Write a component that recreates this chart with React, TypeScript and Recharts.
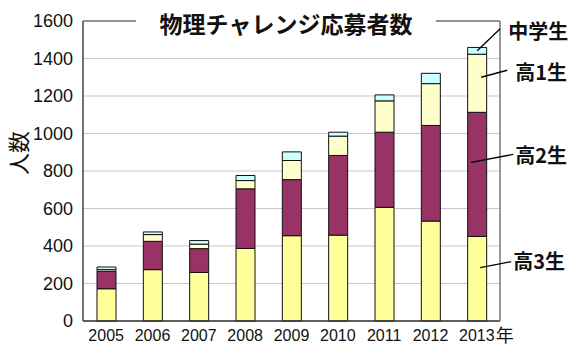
import { BarChart, Bar, XAxis, YAxis, CartesianGrid, ReferenceLine, LabelList } from "recharts";

const years = ["2005", "2006", "2007", "2008", "2009", "2010", "2011", "2012", "2013"];
const koukou3 = [172, 274, 259, 387, 455, 458, 606, 533, 451];
const koukou2 = [93, 151, 127, 318, 299, 425, 401, 510, 662];
const koukou1 = [9, 36, 24, 44, 102, 103, 167, 223, 310];
const chugaku = [14, 14, 19, 27, 46, 21, 32, 55, 36];
const yTicks = [0, 200, 400, 600, 800, 1000, 1200, 1400, 1600];

const data = years.map((year, i) => ({
  year,
  k3: koukou3[i],
  k2: koukou2[i],
  k1: koukou1[i],
  ch: chugaku[i],
}));

const JP = "'Noto Sans CJK JP', sans-serif";
const LAT = "'Liberation Sans', Arial, sans-serif";

// leader line + callout text drawn next to the last bar's segment
function callout(text: string, s: [number, number], e: [number, number], t: [number, number]) {
  return (props: any) => {
    if (props.index !== years.length - 1) return null;
    const vb = props.viewBox || props;
    const x = vb.x ?? props.x;
    const y = vb.y ?? props.y;
    const w = vb.width ?? props.width;
    const h = vb.height ?? props.height;
    const cx = x + w / 2;
    const cy = y + h / 2;
    return (
      <g>
        <line x1={cx + s[0]} y1={cy + s[1]} x2={cx + e[0]} y2={cy + e[1]} stroke="#000" strokeWidth={1.3} />
        <text x={cx + t[0]} y={cy + t[1]} dominantBaseline="central" fontFamily={JP} fontWeight={700} fontSize={20} fill="#111">
          {text}
        </text>
      </g>
    );
  };
}

function XTick(props: any) {
  const { x, y, payload } = props;
  return (
    <g>
      <text x={x} y={y + 6} textAnchor="middle" dominantBaseline="central" fontFamily={LAT} fontSize={16} fill="#111">
        {payload.value}
      </text>
      {payload.value === "2013" && (
        <text x={x + 19} y={y + 5} dominantBaseline="central" fontFamily={JP} fontSize={18} fill="#111">
          年
        </text>
      )}
    </g>
  );
}

export default function App() {
  return (
    <div style={{ position: "absolute", left: 0, top: 0, width: 578, height: 354, background: "#fff" }}>
      <BarChart width={578} height={354} data={data} margin={{ top: 21, right: 77, bottom: 5, left: 0 }} barSize={19}>
        <CartesianGrid vertical={false} stroke="#c8c8c8" />
        <XAxis
          dataKey="year"
          height={28}
          tickLine={false}
          axisLine={{ stroke: "#333", strokeWidth: 1.5 }}
          tick={<XTick />}
          interval={0}
        />
        <YAxis
          width={83}
          domain={[0, 1600]}
          ticks={yTicks}
          tickLine={false}
          tickMargin={4}
          axisLine={{ stroke: "#444", strokeWidth: 1.5 }}
          tick={{ fontFamily: LAT, fontSize: 18, fill: "#111" }}
          label={{
            content: (p: any) => {
              const vb = p.viewBox || {};
              const cy = (vb.y ?? 21) + (vb.height ?? 300) / 2 - 18;
              return (
                <text
                  x={17}
                  y={cy}
                  transform={`rotate(-90 17 ${cy})`}
                  textAnchor="middle"
                  dominantBaseline="central"
                  fontFamily={JP}
                  fontSize={22}
                  fill="#111"
                >
                  人数
                </text>
              );
            },
          }}
        />
        <YAxis yAxisId="r" orientation="right" width={1} domain={[0, 1600]} tick={false} tickLine={false} axisLine={{ stroke: "#777", strokeWidth: 1.5 }} />
        <ReferenceLine y={1600} stroke="#777" strokeWidth={1.5} />
        <Bar dataKey="k3" stackId="a" fill="#ffff99" stroke="#111" strokeWidth={1} isAnimationActive={false}>
          <LabelList dataKey="k3" content={callout("高3生", [3, -11], [34, -17], [36, -18])} />
        </Bar>
        <Bar dataKey="k2" stackId="a" fill="#993366" stroke="#111" strokeWidth={1} isAnimationActive={false}>
          <LabelList dataKey="k2" content={callout("高2生", [-6, -12], [36, -20], [38, -20])} />
        </Bar>
        <Bar dataKey="k1" stackId="a" fill="#ffffcc" stroke="#111" strokeWidth={1} isAnimationActive={false}>
          <LabelList dataKey="k1" content={callout("高1生", [4, -6], [30, -13], [38, -12])} />
        </Bar>
        <Bar dataKey="ch" stackId="a" fill="#ccffff" stroke="#111" strokeWidth={1} isAnimationActive={false}>
          <LabelList dataKey="ch" content={callout("中学生", [0, 0], [23, -22], [31, -20])} />
        </Bar>
      </BarChart>
      <div
        style={{
          position: "absolute",
          left: 136,
          top: 8,
          width: 300,
          height: 30,
          background: "#fff",
          textAlign: "center",
          fontFamily: JP,
          fontWeight: 700,
          fontSize: 23,
          lineHeight: "30px",
          color: "#111",
          whiteSpace: "nowrap",
        }}
      >
        物理チャレンジ応募者数
      </div>
    </div>
  );
}
